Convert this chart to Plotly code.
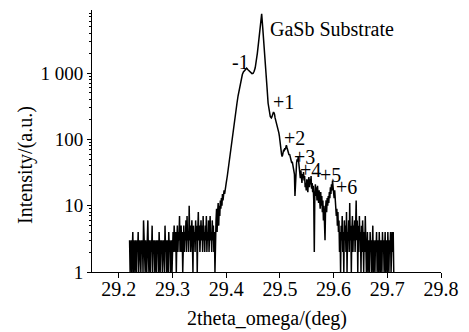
import plotly.graph_objects as go

# ---- data ----
# each segment: start 2theta, step, intensities
seg_low_start, seg_low_step = 29.220, 0.001
seg_low = [3, 1, 2, 3, 1, 2, 4, 1, 3, 2,
           1, 3, 2, 1, 3, 2, 4, 1, 2, 3,
           2, 1, 3, 2, 3, 1, 6, 2, 3, 1,
           3, 2, 1, 3, 6, 2, 1, 3, 2, 1,
           3, 2, 5, 1, 3, 2, 3, 1, 2, 3,
           1, 3, 2, 3, 1, 4, 2, 1, 3, 2,
           3, 1, 2, 3, 2, 1, 5, 2, 3, 1,
           3, 2, 1, 4, 2, 3, 1, 2, 3, 1,
           3]
seg_mid_start, seg_mid_step = 29.301, 0.001
seg_mid = [4, 2, 5, 3, 2, 4, 1, 3, 5, 2,
           4, 3, 7, 2, 3, 5, 2, 4, 1, 3,
           5, 2, 4, 3, 6, 2, 7, 3, 4, 2,
           10, 3, 5, 2, 4, 6, 3, 1, 5, 3,
           4, 2, 6, 3, 5, 1, 4, 8, 3, 5,
           2, 4, 6, 3, 5, 2, 7, 3, 4, 2,
           5, 3, 7, 2, 4, 3, 6, 2, 5, 7,
           3, 4, 2, 6, 3, 5, 2, 4, 1, 4]
seg_rise_start, seg_rise_step = 29.381, 0.001
seg_rise = [6, 9, 4, 8, 11, 5, 10, 7, 12, 9,
            13, 10, 15, 12, 14, 17, 15, 19, 18, 22]
seg_peak_start, seg_peak_step = 29.402, 0.002
seg_peak = [28, 38, 50, 66, 88, 118, 160, 200, 270, 350,
            450, 560, 700, 830, 950, 1040, 1100, 1150, 1180, 1130,
            1080, 1060, 1010, 980, 990, 1060, 1200, 1500, 2000, 2800,
            4200, 6200, 7800, 4800, 2600, 1500, 1000, 600, 350, 260]
seg_sat_start, seg_sat_step = 29.481, 0.001
seg_sat = [235, 222, 215, 210, 218, 230, 245, 258, 250, 238,
           210, 196, 182, 172, 160, 152, 140, 125, 112, 100,
           82, 70, 60, 55, 58, 64, 70, 66, 74, 70,
           78, 82, 76, 72, 65, 62, 58, 60, 54, 50,
           48, 44, 46, 40, 42, 36, 30, 14, 26, 38,
           44, 50, 46, 54, 42, 36, 30, 26, 34, 28,
           22, 30, 26, 32, 24, 28, 19, 22, 17, 25,
           20, 16, 24, 27, 19, 25, 21, 28, 18, 22,
           16, 20, 12, 2, 15, 21, 14, 19, 12, 20,
           15, 11, 17, 13, 9, 16, 10, 14, 8, 12,
           6, 10, 4, 3, 9, 12, 8, 13, 10, 14,
           11, 16, 13, 19, 15, 21, 17, 24, 19, 16,
           13, 17, 10, 12, 7, 9, 5, 8, 4]
seg_tail_start, seg_tail_step = 29.610, 0.001
seg_tail = [6, 2, 4, 1, 5, 3, 7, 2, 4, 1,
            6, 3, 5, 2, 8, 1, 4, 3, 6, 2,
            11, 3, 5, 1, 4, 7, 2, 5, 3, 6,
            2, 4, 12, 3, 6, 1, 5, 2, 7, 3,
            4, 1, 5, 2, 6, 3, 1, 4, 2, 7,
            3, 1, 2, 4, 1, 3, 2, 1, 4, 2,
            3, 1, 2, 5, 1, 3, 2, 1, 3, 2,
            4, 1, 2, 3, 1, 4, 2, 1, 3, 2,
            1, 4, 2, 3, 1, 2, 4, 1, 3, 2,
            1, 4, 2, 1, 3, 2, 4, 1, 2, 4,
            2, 4, 1]

segments = [(seg_low_start, seg_low_step, seg_low),
            (seg_mid_start, seg_mid_step, seg_mid),
            (seg_rise_start, seg_rise_step, seg_rise),
            (seg_peak_start, seg_peak_step, seg_peak),
            (seg_sat_start, seg_sat_step, seg_sat),
            (seg_tail_start, seg_tail_step, seg_tail)]

two_theta = []
intensity = []
for start, step, vals in segments:
    for k, v in enumerate(vals):
        two_theta.append(round(start + step * k, 4))
        intensity.append(v)

x_tickvals = [29.2, 29.3, 29.4, 29.5, 29.6, 29.7, 29.8]
x_ticktext = ["29.2", "29.3", "29.4", "29.5", "29.6", "29.7", "29.8"]
y_tickvals = [1, 10, 100, 1000]
y_ticktext = ["1", "10", "100", "1 000"]

peak_labels = ["-1", "+1", "+2", "+3", "+4", "+5", "+6"]
substrate_label = "GaSb Substrate"
x_title = "2theta_omega/(deg)"
y_title = "Intensity/(a.u.)"

# ---- figure ----
FONT = "Liberation Serif"
fig = go.Figure()
fig.add_trace(go.Scatter(x=two_theta, y=intensity, mode="lines",
                         line=dict(color="black", width=1.5), showlegend=False,
                         hoverinfo="skip"))

# label positions (x in data units, y in log10 units)
label_pos = [(29.4265, 3.166), (29.5066, 2.570), (29.5268, 2.013), (29.5461, 1.741),
             (29.5572, 1.537), (29.5940, 1.462), (29.6240, 1.289)]
for txt, (lx, ly) in zip(peak_labels, label_pos):
    fig.add_annotation(x=lx, y=ly, xref="x", yref="y", text=txt, showarrow=False,
                       font=dict(family=FONT, size=20, color="black"),
                       xanchor="center", yanchor="middle")
fig.add_annotation(x=29.5976, y=3.67, xref="x", yref="y", text=substrate_label,
                   showarrow=False, font=dict(family=FONT, size=20, color="black"),
                   xanchor="center", yanchor="middle")

fig.add_annotation(x=0.5, y=-0.1756, xref="paper", yref="paper", text=x_title,
                   showarrow=False, font=dict(family=FONT, size=20, color="black"),
                   xanchor="center", yanchor="middle")
fig.add_annotation(x=-0.1926, y=0.408, xref="paper", yref="paper", text=y_title,
                   textangle=-90, showarrow=False,
                   font=dict(family=FONT, size=20, color="black"),
                   xanchor="center", yanchor="middle")

fig.update_xaxes(range=[29.15, 29.8], tickvals=x_tickvals, ticktext=x_ticktext,
                 showline=True, linecolor="black", linewidth=1, showgrid=False,
                 zeroline=False, ticks="outside", ticklen=5, tickcolor="black",
                 ticklabelstandoff=-6,
                 tickfont=dict(family=FONT, size=20, color="black"))
fig.update_yaxes(type="log", range=[0, 3.95], tickvals=y_tickvals, ticktext=y_ticktext,
                 showline=True, linecolor="black", linewidth=1, showgrid=False,
                 zeroline=False, ticks="outside", ticklen=4, tickcolor="black",
                 minor=dict(ticks="outside", ticklen=2, tickcolor="black",
                            showgrid=False, dtick="D1"),
                 tickfont=dict(family=FONT, size=19, color="black"))

fig.update_layout(width=469, height=332, margin=dict(l=92, r=24, t=10, b=60),
                  plot_bgcolor="white", paper_bgcolor="white",
                  font=dict(family=FONT, color="black"))

fig.write_html("out.html")
